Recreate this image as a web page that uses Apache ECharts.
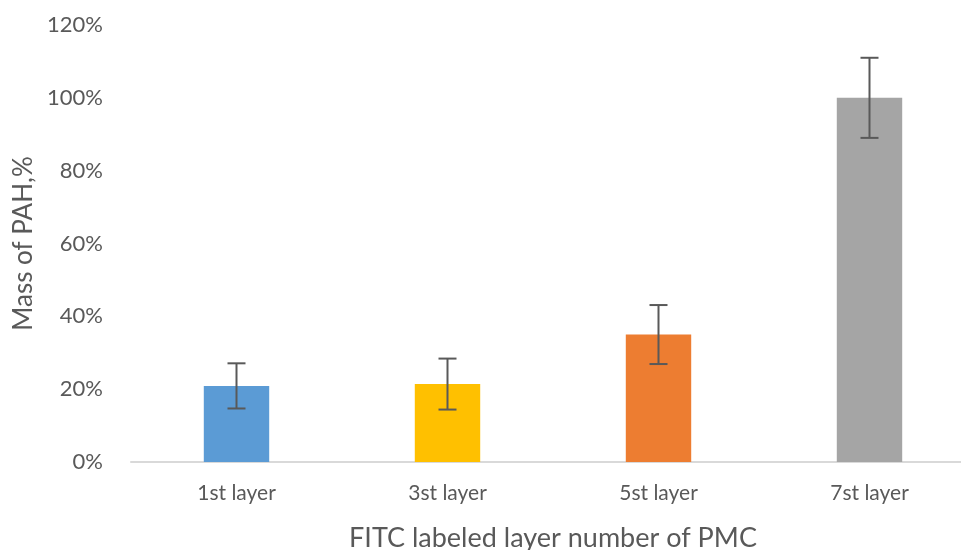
<!DOCTYPE html>
<html>
<head>
<meta charset="utf-8">
<script src="https://cdn.jsdelivr.net/npm/echarts@6/dist/echarts.min.js"></script>
<style>
  html, body { margin: 0; padding: 0; background: #fff; }
  #chart { width: 961px; height: 550px; }
</style>
</head>
<body>
<div id="chart"></div>
<script>
const categories = ['1st layer', '3st layer', '5st layer', '7st layer']
const massValues = [20.9, 21.4, 35.0, 100.0]
const errorValues = [6.2, 7.0, 8.1, 11.0]
const barColors = ['#5B9BD5', '#FFC000', '#ED7D31', '#A5A5A5']
const yTicks = [0, 20, 40, 60, 80, 100, 120]

const FONT = 'Lato'
const myChart = echarts.init(document.getElementById('chart'))

const errorData = massValues.map((v, i) => [i, v - errorValues[i], v + errorValues[i]])

myChart.setOption({
  animation: false,
  textStyle: { fontFamily: FONT },
  grid: { left: 131, right: -14, top: 25, bottom: 88, outerBoundsMode: 'none', containLabel: false },
  xAxis: {
    type: 'category',
    data: categories,
    name: 'FITC labeled layer number of PMC',
    nameLocation: 'middle',
    nameGap: 63,
    nameTextStyle: { fontSize: 27, color: '#595959', fontFamily: FONT },
    axisLine: { lineStyle: { color: '#D9D9D9', width: 2 } },
    axisTick: { show: false },
    axisLabel: { fontSize: 21, color: '#595959', margin: 21 }
  },
  yAxis: {
    type: 'value',
    min: yTicks[0],
    max: yTicks[yTicks.length - 1],
    interval: 20,
    name: 'Mass of PAH,%',
    nameLocation: 'middle',
    nameGap: 84,
    nameTextStyle: { fontSize: 26, color: '#595959', fontFamily: FONT },
    axisLine: { show: false },
    axisTick: { show: false },
    splitLine: { show: false },
    axisLabel: {
      fontSize: 22,
      color: '#595959',
      margin: 28,
      formatter: v => v + '%'
    }
  },
  series: [
    {
      type: 'bar',
      barWidth: '31%',
      data: massValues.map((v, i) => ({ value: v, itemStyle: { color: barColors[i] } }))
    },
    {
      // error bars
      type: 'custom',
      data: errorData,
      z: 10,
      renderItem: (params, api) => {
        const lo = api.coord([api.value(0), api.value(1)])
        const hi = api.coord([api.value(0), api.value(2)])
        const half = 9
        const style = { stroke: '#595959', lineWidth: 2 }
        return {
          type: 'group',
          children: [
            { type: 'line', shape: { x1: hi[0], y1: hi[1], x2: lo[0], y2: lo[1] }, style },
            { type: 'line', shape: { x1: hi[0] - half, y1: hi[1], x2: hi[0] + half, y2: hi[1] }, style },
            { type: 'line', shape: { x1: lo[0] - half, y1: lo[1], x2: lo[0] + half, y2: lo[1] }, style }
          ]
        }
      }
    }
  ]
})

window.onresize = function () {
  myChart.resize()
}
</script>
</body>
</html>
